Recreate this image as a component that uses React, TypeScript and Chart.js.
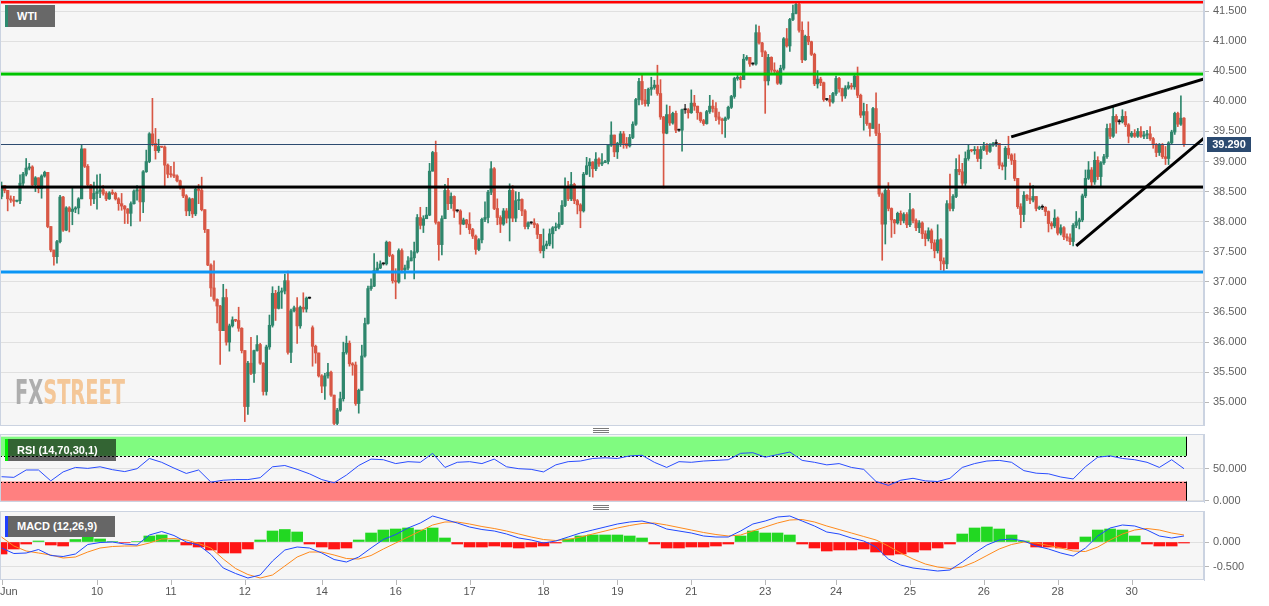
import React, { useEffect, useRef } from 'react';
import { Chart, registerables } from 'chart.js';

Chart.register(...registerables);

// ---------------- data (hourly WTI candles) ----------------
const closes = [
  38.60, 38.52, 38.38, 38.36, 38.34, 38.35, 38.64, 38.79, 38.89, 38.91,
  38.61, 38.73, 38.55, 38.76, 38.82, 37.92, 37.53, 37.42, 37.67, 38.41,
  37.86, 38.23, 38.17, 38.21, 38.23, 38.38, 39.21, 38.92, 38.61, 38.38,
  38.47, 38.50, 38.53, 38.47, 38.38, 38.48, 38.47, 38.38, 38.30, 38.26,
  38.21, 38.14, 38.30, 38.51, 38.53, 38.33, 38.83, 39.00, 39.46, 39.30,
  39.18, 39.25, 39.24, 38.94, 38.79, 38.78, 38.76, 38.68, 38.57, 38.43,
  38.18, 38.38, 38.13, 38.54, 38.52, 38.20, 37.87, 37.28, 36.90, 36.71,
  36.60, 36.19, 36.74, 36.00, 36.27, 36.37, 36.36, 36.23, 35.86, 34.93,
  35.65, 35.48, 35.86, 35.96, 35.65, 35.18, 35.92, 36.28, 36.81, 36.56,
  36.83, 36.85, 37.02, 35.83, 36.52, 36.57, 36.27, 36.58, 36.55, 36.73,
  36.73, 35.93, 35.82, 35.44, 35.27, 35.44, 35.50, 35.12, 34.65, 34.87,
  35.06, 35.83, 35.98, 35.64, 35.62, 34.98, 35.20, 35.77, 36.31, 36.89,
  36.93, 37.19, 37.23, 37.30, 37.30, 37.66, 37.44, 37.02, 37.00, 37.52,
  37.20, 37.23, 37.35, 37.40, 37.50, 38.07, 37.94, 38.05, 38.11, 38.84,
  39.15, 37.99, 37.62, 38.05, 38.52, 38.30, 38.42, 38.18, 38.18, 37.96,
  38.03, 37.96, 37.87, 37.76, 37.54, 37.70, 38.04, 38.07, 38.49, 38.88,
  38.22, 38.07, 37.96, 38.18, 38.06, 38.52, 38.06, 38.35, 38.37, 38.18,
  37.92, 37.98, 37.98, 37.95, 37.79, 37.52, 37.60, 37.63, 37.80, 37.90,
  37.91, 37.96, 38.27, 38.57, 38.38, 38.62, 38.35, 38.28, 38.18, 38.79,
  38.93, 38.99, 38.88, 39.04, 38.96, 38.98, 39.00, 39.27, 39.44, 39.16,
  39.30, 39.46, 39.30, 39.26, 39.40, 39.62, 40.03, 40.33, 40.02, 39.96,
  40.20, 40.23, 40.27, 40.13, 39.74, 39.47, 39.78, 39.64, 39.80, 39.52,
  39.52, 39.86, 39.86, 39.81, 39.97, 39.92, 39.81, 39.68, 39.63, 39.83,
  39.92, 39.88, 39.74, 39.70, 39.68, 39.72, 39.90, 40.08, 40.38, 40.40,
  40.36, 40.70, 40.73, 40.62, 40.62, 41.14, 40.97, 40.82, 40.34, 40.73,
  40.52, 40.50, 40.30, 40.55, 41.04, 40.92, 41.36, 41.46, 41.61, 41.18,
  40.69, 41.08, 40.99, 40.78, 40.29, 40.37, 40.31, 40.03, 40.03, 39.99,
  40.13, 40.38, 40.21, 40.09, 40.22, 40.26, 40.24, 40.42, 40.10, 39.77,
  39.83, 39.63, 39.55, 39.88, 39.47, 38.46, 37.96, 38.52, 38.22, 38.03,
  37.98, 38.14, 38.02, 38.12, 37.95, 38.20, 38.02, 37.90, 37.98, 37.80,
  37.72, 37.85, 37.65, 37.52, 37.70, 37.35, 37.30, 38.30, 38.22, 38.42,
  38.87, 38.83, 38.64, 39.05, 39.19, 39.18, 39.20, 39.05, 39.20, 39.26,
  39.17, 39.27, 39.30, 39.30, 38.94, 38.92, 39.22, 39.11, 39.02, 38.72,
  38.25, 38.12, 38.44, 38.39, 38.36, 38.42, 38.22, 38.24, 38.24, 38.17,
  37.97, 37.93, 38.06, 37.81, 37.90, 37.75, 37.73, 37.67, 37.94, 38.00,
  38.03, 38.43, 38.72, 38.86, 38.66, 39.02, 38.75, 38.98, 39.08, 39.55,
  39.42, 39.75, 39.66, 39.66, 39.75, 39.61, 39.42, 39.47, 39.42, 39.50,
  39.42, 39.44, 39.46, 39.38, 39.28, 39.15, 39.28, 39.08, 39.05, 39.31,
  39.49, 39.80, 39.62, 39.72, 39.29,
];

const highs = [
  38.66, 38.60, 38.52, 38.43, 38.42, 38.36, 38.78, 38.82, 39.05, 38.97,
  38.93, 38.75, 38.73, 38.78, 38.84, 38.82, 37.92, 37.53, 37.69, 38.44,
  38.42, 38.25, 38.25, 38.57, 38.25, 38.40, 39.27, 39.21, 38.95, 38.62,
  38.66, 38.78, 38.79, 38.60, 38.50, 38.50, 38.53, 38.49, 38.40, 38.47,
  38.27, 38.22, 38.33, 38.53, 38.60, 38.55, 38.85, 39.19, 39.48, 40.05,
  39.55, 39.37, 39.25, 39.26, 38.96, 38.92, 38.99, 38.78, 38.69, 38.58,
  38.45, 38.40, 38.39, 38.56, 38.62, 38.74, 38.20, 37.87, 37.30, 37.35,
  36.72, 36.61, 36.96, 36.88, 36.30, 36.42, 36.38, 36.58, 36.24, 35.86,
  35.68, 36.08, 35.87, 36.11, 35.98, 35.66, 35.95, 36.45, 36.92, 36.86,
  36.93, 36.90, 37.13, 37.18, 36.55, 36.60, 36.74, 36.60, 36.82, 36.75,
  36.75, 36.27, 35.95, 35.82, 35.46, 35.48, 35.65, 35.52, 35.12, 34.90,
  35.17, 36.00, 36.10, 36.02, 35.66, 35.67, 35.22, 35.95, 36.40, 36.93,
  37.05, 37.47, 37.33, 37.35, 37.32, 37.68, 37.67, 37.46, 37.22, 37.55,
  37.55, 37.28, 37.42, 37.52, 37.66, 38.12, 38.24, 38.10, 38.24, 38.97,
  39.17, 39.34, 38.00, 38.10, 38.62, 38.72, 38.48, 38.43, 38.20, 38.20,
  38.06, 38.04, 38.15, 37.89, 37.78, 37.72, 38.06, 38.33, 38.52, 39.00,
  38.90, 38.38, 38.10, 38.22, 38.22, 38.63, 38.60, 38.50, 38.49, 38.38,
  38.20, 38.00, 38.00, 38.05, 37.97, 37.78, 37.88, 37.68, 37.88, 37.92,
  37.98, 38.15, 38.35, 38.73, 38.67, 38.82, 38.64, 38.37, 38.30, 38.82,
  39.07, 39.05, 39.00, 39.15, 39.06, 39.13, 39.02, 39.28, 39.66, 39.44,
  39.32, 39.50, 39.50, 39.40, 39.45, 39.66, 40.05, 40.38, 40.44, 40.20,
  40.22, 40.40, 40.35, 40.60, 40.36, 39.75, 39.94, 39.92, 39.82, 39.84,
  39.54, 39.87, 39.95, 39.88, 40.19, 40.10, 39.92, 39.82, 39.70, 39.85,
  40.10, 40.02, 39.98, 39.82, 39.72, 39.74, 39.92, 40.10, 40.40, 40.45,
  40.42, 40.78, 40.76, 40.73, 40.64, 41.27, 41.25, 40.98, 40.84, 40.78,
  40.74, 40.64, 40.52, 40.60, 41.06, 41.21, 41.38, 41.60, 41.66, 41.65,
  41.32, 41.10, 41.32, 41.00, 40.80, 40.51, 40.40, 40.32, 40.05, 40.10,
  40.15, 40.42, 40.40, 40.22, 40.26, 40.32, 40.30, 40.44, 40.57, 40.12,
  39.97, 39.95, 39.64, 39.90, 40.14, 39.62, 38.48, 38.55, 38.65, 38.23,
  38.04, 38.16, 38.18, 38.15, 38.15, 38.47, 38.22, 38.05, 38.02, 38.00,
  37.85, 37.90, 37.88, 37.70, 37.95, 37.72, 37.40, 38.35, 38.79, 38.45,
  39.05, 39.11, 38.97, 39.16, 39.27, 39.20, 39.25, 39.25, 39.25, 39.32,
  39.30, 39.30, 39.32, 39.36, 39.30, 38.98, 39.25, 39.42, 39.13, 39.13,
  38.72, 38.30, 38.50, 38.45, 38.64, 38.60, 38.42, 38.26, 38.28, 38.25,
  38.18, 38.00, 38.20, 38.08, 37.95, 37.92, 37.80, 37.80, 37.97, 38.17,
  38.06, 38.46, 38.86, 39.00, 38.90, 39.16, 39.08, 39.00, 39.12, 39.62,
  39.63, 39.90, 39.78, 39.70, 39.86, 39.83, 39.63, 39.50, 39.53, 39.55,
  39.58, 39.50, 39.52, 39.58, 39.40, 39.30, 39.30, 39.30, 39.25, 39.33,
  39.52, 39.82, 39.82, 40.09, 39.73,
];

const lows = [
  38.38, 38.48, 38.18, 38.32, 38.26, 38.33, 38.30, 38.60, 38.76, 38.86,
  38.58, 38.50, 38.48, 38.39, 38.74, 37.90, 37.50, 37.28, 37.31, 37.65,
  37.84, 37.85, 37.83, 37.95, 38.15, 38.13, 38.38, 38.90, 38.58, 38.27,
  38.30, 38.21, 38.40, 38.44, 38.35, 38.37, 38.45, 38.36, 38.19, 38.19,
  37.97, 37.97, 37.93, 38.29, 38.36, 38.01, 38.15, 38.82, 38.98, 39.26,
  39.04, 39.15, 39.23, 38.60, 38.73, 38.74, 38.73, 38.66, 38.54, 38.40,
  38.10, 38.10, 38.07, 38.10, 38.30, 38.18, 37.82, 37.27, 36.76, 36.68,
  36.32, 35.63, 36.20, 35.95, 35.85, 36.25, 36.34, 36.18, 35.82, 34.68,
  34.80, 35.46, 35.33, 35.85, 35.63, 35.12, 35.12, 35.88, 36.25, 36.36,
  36.55, 36.56, 36.80, 35.80, 35.66, 36.50, 35.98, 36.23, 36.50, 36.50,
  36.72, 35.60, 35.65, 35.42, 35.16, 35.05, 35.40, 35.10, 34.62, 34.62,
  34.85, 35.02, 35.80, 35.60, 35.45, 34.95, 34.82, 35.20, 35.75, 36.30,
  36.86, 36.92, 37.17, 37.22, 37.28, 37.28, 37.42, 36.98, 36.72, 36.98,
  37.15, 37.05, 37.20, 37.35, 37.05, 37.48, 37.88, 37.82, 38.05, 38.10,
  38.84, 37.96, 37.36, 37.45, 38.05, 38.20, 38.22, 38.07, 38.16, 37.79,
  37.95, 37.90, 37.80, 37.72, 37.46, 37.52, 37.65, 38.00, 37.98, 38.45,
  38.20, 37.95, 37.82, 37.94, 37.98, 37.68, 38.00, 38.00, 38.20, 38.10,
  37.88, 37.88, 37.96, 37.90, 37.72, 37.48, 37.40, 37.55, 37.60, 37.56,
  37.85, 37.88, 37.95, 38.25, 38.35, 38.35, 38.30, 38.13, 37.90, 38.16,
  38.78, 38.75, 38.74, 38.85, 38.92, 38.93, 38.98, 38.96, 39.25, 39.08,
  39.05, 39.25, 39.22, 39.22, 39.24, 39.38, 39.60, 39.94, 39.95, 39.92,
  39.92, 40.10, 40.20, 40.10, 39.70, 38.56, 39.46, 39.60, 39.62, 39.48,
  39.50, 39.17, 39.80, 39.72, 39.80, 39.85, 39.70, 39.65, 39.60, 39.62,
  39.80, 39.82, 39.68, 39.62, 39.46, 39.40, 39.70, 39.88, 40.05, 40.35,
  40.22, 40.36, 40.68, 40.58, 40.60, 40.60, 40.95, 40.74, 39.80, 40.27,
  40.48, 40.47, 40.28, 40.28, 40.52, 40.90, 40.83, 41.34, 41.45, 41.15,
  40.64, 40.68, 40.94, 40.76, 40.26, 40.22, 40.26, 40.00, 40.01, 39.92,
  39.97, 40.10, 40.15, 40.00, 40.05, 40.20, 40.20, 40.20, 40.06, 39.73,
  39.52, 39.60, 39.42, 39.55, 39.43, 38.42, 37.36, 37.63, 38.18, 37.74,
  37.80, 37.96, 37.95, 37.98, 37.90, 37.92, 37.98, 37.85, 37.82, 37.72,
  37.60, 37.68, 37.55, 37.40, 37.48, 37.20, 37.18, 37.22, 38.18, 38.18,
  38.40, 38.78, 38.60, 38.60, 39.02, 39.16, 39.12, 39.00, 38.88, 39.18,
  39.12, 39.15, 39.25, 39.25, 38.88, 38.86, 38.70, 39.05, 38.95, 38.68,
  38.22, 37.90, 38.00, 38.35, 38.30, 38.33, 38.18, 38.20, 38.20, 38.10,
  37.83, 37.88, 37.90, 37.78, 37.78, 37.70, 37.68, 37.62, 37.60, 37.90,
  37.88, 38.00, 38.40, 38.70, 38.60, 38.62, 38.70, 38.58, 38.95, 39.05,
  39.38, 39.40, 39.47, 39.62, 39.64, 39.58, 39.31, 39.40, 39.40, 39.40,
  39.40, 39.38, 39.38, 39.35, 39.22, 39.08, 39.10, 39.05, 38.95, 38.95,
  39.28, 39.45, 39.58, 39.60, 39.25,
];

// opens are the previous close, except where a session opened with a gap
const sessionOpens: Record<number, number> = { 0: 38.42, 101: 36.24 };

const priceTicks = [35, 35.5, 36, 36.5, 37, 37.5, 38, 38.5, 39, 39.5, 40, 40.5, 41, 41.5];
const levelPrices = [41.65, 40.453, 38.576, 37.165];
const levelColors = ['#ff0000', '#00c300', '#000000', '#0a95f5'];
const lastPrice = 39.29;
const trendUpper = [[327.9, 39.41], [390.5, 40.37]];
const trendLower = [[349.0, 37.60], [390.5, 39.39]];

const dateTickIndex = [0, 31, 55, 79, 104, 128, 152, 176, 200, 224, 248, 271, 295, 319, 343, 367];
const dateTickLabels = ['Jun', '10', '11', '12', '14', '16', '17', '18', '19', '21', '23', '24', '25', '26', '28', '30'];

// oscillators sampled every 4 candles
const oscStep = 4;
const rsiValues = [
  37.5, 36.5, 48, 48, 31, 45, 52, 50.5, 53, 48.5,
  45.5, 50, 66, 60, 51, 42.6, 48, 29, 32, 33,
  33, 36, 53, 55, 49, 42, 33, 28, 40, 55,
  65, 64, 58, 61, 60, 74, 52, 60, 61, 58,
  65, 53, 50, 49, 45, 56, 61, 62, 66, 67,
  66, 70, 71, 60, 52, 61, 60, 62, 63, 64,
  74, 75, 68, 72, 76, 63, 60, 56, 58, 52,
  49, 30, 24, 32, 35, 31, 30, 35, 52, 58,
  62, 63, 60, 47, 43, 42, 37, 34, 53, 68,
  70, 66, 64, 60, 52, 64, 50,
];
const rsiTicks = [0, 50];
const rsiUpper = 70;
const rsiLower = 30;

const macdValues = [
  -0.12, -0.23, -0.22, -0.15, -0.27, -0.29, -0.24, -0.05, -0.01, 0.0,
  -0.04, -0.06, 0.14, 0.21, 0.13, 0.0, -0.06, -0.25, -0.52, -0.63,
  -0.72, -0.66, -0.38, -0.16, -0.10, -0.12, -0.22, -0.35, -0.40, -0.30,
  -0.12, 0.05, 0.15, 0.28, 0.38, 0.52, 0.45, 0.38, 0.30, 0.25,
  0.22, 0.16, 0.08, 0.04, -0.02, 0.02, 0.10, 0.18, 0.24, 0.30,
  0.36, 0.40, 0.42, 0.36, 0.26, 0.22, 0.18, 0.12, 0.10, 0.10,
  0.22, 0.36, 0.42, 0.50, 0.52, 0.42, 0.32, 0.20, 0.16, 0.08,
  0.02, -0.10, -0.34, -0.46, -0.52, -0.55, -0.58, -0.56, -0.40, -0.22,
  -0.06, 0.04, 0.06, 0.02, -0.08, -0.14, -0.22, -0.28, -0.12, 0.12,
  0.28, 0.34, 0.32, 0.24, 0.12, 0.08, 0.12,
];
const signalValues = [
  0.10, -0.08, -0.18, -0.22, -0.26, -0.32, -0.30, -0.20, -0.12, -0.09,
  -0.08, -0.08, -0.02, 0.06, 0.07, 0.04, -0.03, -0.12, -0.34, -0.53,
  -0.65, -0.72, -0.66, -0.48, -0.30, -0.20, -0.20, -0.26, -0.33, -0.34,
  -0.27, -0.14, -0.02, 0.10, 0.22, 0.34, 0.40, 0.40, 0.36, 0.31,
  0.27, 0.22, 0.16, 0.10, 0.05, 0.03, 0.05, 0.10, 0.16, 0.22,
  0.28, 0.33, 0.37, 0.38, 0.34, 0.29, 0.24, 0.19, 0.15, 0.12,
  0.14, 0.22, 0.30, 0.38, 0.44, 0.45, 0.40, 0.32, 0.25, 0.18,
  0.11, 0.04, -0.08, -0.22, -0.34, -0.44, -0.50, -0.53, -0.50, -0.40,
  -0.27, -0.14, -0.05, 0.00, -0.02, -0.07, -0.12, -0.18, -0.19, -0.10,
  0.04, 0.16, 0.24, 0.27, 0.24, 0.18, 0.14,
];
const histValues = [
  -0.24, -0.14, -0.04, 0.02, -0.06, -0.08, 0.05, 0.12, 0.06, 0.01,
  -0.01, 0.01, 0.12, 0.14, 0.04, -0.06, -0.10, -0.16, -0.22, -0.22,
  -0.14, 0.04, 0.22, 0.25, 0.20, -0.04, -0.10, -0.14, -0.12, 0.04,
  0.18, 0.24, 0.26, 0.28, 0.24, 0.28, 0.08, -0.04, -0.10, -0.10,
  -0.08, -0.10, -0.12, -0.10, -0.08, -0.02, 0.06, 0.12, 0.14, 0.14,
  0.14, 0.12, 0.08, -0.04, -0.12, -0.12, -0.10, -0.10, -0.08, -0.04,
  0.12, 0.22, 0.18, 0.18, 0.14, -0.04, -0.12, -0.18, -0.16, -0.16,
  -0.14, -0.20, -0.26, -0.24, -0.20, -0.16, -0.12, -0.04, 0.16, 0.28,
  0.30, 0.26, 0.14, 0.02, -0.10, -0.10, -0.12, -0.14, 0.10, 0.24,
  0.26, 0.24, 0.12, -0.04, -0.08, -0.08, -0.02,
];
const macdTicks = [-0.5, 0];

// ---------------- styling ----------------
const FONT = "'Liberation Sans', Arial, sans-serif";
const SLOTS = 391;
const AXIS_W = 65;
const GREEN = '#2e866c';
const RED = '#d85745';
const PANE_BG = '#f6f6f6';
const PANE_BORDER = '#cbd3e1';

const common: any = {
  responsive: false,
  animation: false,
  devicePixelRatio: 1,
  events: [],
  plugins: { legend: { display: false }, tooltip: { enabled: false }, title: { display: false } },
};

function xAxis(): any {
  return { type: 'linear', min: -0.5, max: SLOTS - 0.5, offset: false, display: false };
}

function yAxis(min: number, max: number, ticks: number[]): any {
  return {
    position: 'right',
    min,
    max,
    afterBuildTicks: (s: any) => {
      s.ticks = ticks.map((v) => ({ value: v }));
    },
    afterFit: (s: any) => {
      s.width = AXIS_W;
      s.paddingTop = 0;
      s.paddingBottom = 0;
    },
    grid: { color: '#e0e0e0', lineWidth: 1, drawTicks: true, tickLength: 5, tickColor: '#b8b8b8' },
    border: { display: true, color: PANE_BORDER },
    ticks: {
      color: '#5f5f5f',
      font: { size: 11, family: FONT },
      padding: 4,
      autoSkip: false,
      callback: (v: any) => Number(v).toFixed(3),
    },
  };
}

const paneBg = {
  id: 'paneBg',
  beforeDraw(chart: any) {
    const { ctx, chartArea: a } = chart;
    ctx.save();
    ctx.fillStyle = PANE_BG;
    ctx.fillRect(a.left, a.top, a.width, a.height);
    ctx.restore();
  },
};

const paneBorder = {
  id: 'paneBorder',
  afterDraw(chart: any) {
    const { ctx, chartArea: a } = chart;
    ctx.save();
    ctx.strokeStyle = PANE_BORDER;
    ctx.lineWidth = 1;
    ctx.strokeRect(a.left + 0.5, a.top + 0.5, a.width - 1, a.height - 1);
    ctx.restore();
  },
};

const mainExtras = {
  id: 'mainExtras',
  beforeDatasetsDraw(chart: any) {
    const { ctx } = chart;
    ctx.save();
    ctx.font = "bold 34px 'Liberation Sans Narrow', 'DejaVu Sans Condensed', sans-serif";
    const wFX = ctx.measureText('FX').width;
    const wST = ctx.measureText('STREET').width;
    const sx = 110 / (wFX + wST);
    ctx.translate(15, 404);
    ctx.scale(sx, 1);
    ctx.textBaseline = 'alphabetic';
    ctx.globalAlpha = 0.9;
    ctx.fillStyle = '#a6a6a6';
    ctx.fillText('FX', 0, 0);
    ctx.fillStyle = '#f4c28e';
    ctx.fillText('STREET', wFX, 0);
    ctx.restore();
  },
  afterDatasetsDraw(chart: any) {
    const { ctx, chartArea: a } = chart;
    const x = chart.scales.x;
    const y = chart.scales.y;
    ctx.save();
    ctx.beginPath();
    ctx.rect(a.left, a.top, a.width, a.height);
    ctx.clip();
    levelPrices.forEach((p, i) => {
      const py = y.getPixelForValue(p);
      ctx.fillStyle = levelColors[i];
      ctx.fillRect(a.left, py - 1.5, a.width, 3);
    });
    const ly = Math.round(y.getPixelForValue(lastPrice)) + 0.5;
    ctx.strokeStyle = '#2d4b70';
    ctx.lineWidth = 1;
    ctx.beginPath();
    ctx.moveTo(a.left, ly);
    ctx.lineTo(a.right, ly);
    ctx.stroke();
    ctx.strokeStyle = '#000';
    ctx.lineWidth = 3;
    [trendUpper, trendLower].forEach((seg) => {
      ctx.beginPath();
      ctx.moveTo(x.getPixelForValue(seg[0][0]), y.getPixelForValue(seg[0][1]));
      ctx.lineTo(x.getPixelForValue(seg[1][0]), y.getPixelForValue(seg[1][1]));
      ctx.stroke();
    });
    ctx.restore();
  },
  afterDraw(chart: any) {
    const { ctx, chartArea: a } = chart;
    const y = chart.scales.y;
    const py = y.getPixelForValue(lastPrice);
    ctx.save();
    ctx.fillStyle = '#2b4a70';
    ctx.fillRect(a.right + 3, Math.round(py) - 7, 44, 15);
    ctx.fillStyle = '#ffffff';
    ctx.font = `bold 11px ${FONT}`;
    ctx.textAlign = 'center';
    ctx.textBaseline = 'middle';
    ctx.fillText(lastPrice.toFixed(3), a.right + 25, Math.round(py) + 1);
    ctx.restore();
  },
};

const rsiBands = {
  id: 'rsiBands',
  beforeDatasetsDraw(chart: any) {
    const { ctx, chartArea: a } = chart;
    const x = chart.scales.x;
    const y = chart.scales.y;
    const x1 = Math.round(x.getPixelForValue(closes.length - 0.5));
    const y100 = y.getPixelForValue(100);
    const y70 = y.getPixelForValue(rsiUpper);
    const y30 = y.getPixelForValue(rsiLower);
    const y0 = Math.min(y.getPixelForValue(0), a.bottom);
    ctx.save();
    ctx.fillStyle = '#80fb80';
    ctx.fillRect(a.left, y100, x1 - a.left, y70 - y100);
    ctx.fillStyle = '#ff8080';
    ctx.fillRect(a.left, y30, x1 - a.left, y0 - y30);
    ctx.strokeStyle = '#000';
    ctx.lineWidth = 1;
    ctx.setLineDash([2, 2]);
    [y70, y30].forEach((yy) => {
      ctx.beginPath();
      ctx.moveTo(a.left, Math.round(yy) + 0.5);
      ctx.lineTo(x1, Math.round(yy) + 0.5);
      ctx.stroke();
    });
    ctx.setLineDash([]);
    ctx.beginPath();
    ctx.moveTo(x1 + 0.5, y100);
    ctx.lineTo(x1 + 0.5, y70);
    ctx.moveTo(x1 + 0.5, y30);
    ctx.lineTo(x1 + 0.5, y0);
    ctx.stroke();
    ctx.restore();
  },
};

const dateAxis = {
  id: 'dateAxis',
  afterDraw(chart: any) {
    const { ctx, chartArea: a } = chart;
    const x = chart.scales.x;
    ctx.save();
    ctx.font = `11px ${FONT}`;
    ctx.fillStyle = '#555555';
    ctx.strokeStyle = '#b8b8b8';
    ctx.lineWidth = 1;
    ctx.textAlign = 'center';
    ctx.textBaseline = 'middle';
    dateTickIndex.forEach((k, i) => {
      const px = x.getPixelForValue(k);
      const rx = Math.round(px) + 0.5;
      ctx.beginPath();
      ctx.moveTo(rx, a.bottom);
      ctx.lineTo(rx, a.bottom + 5);
      ctx.stroke();
      const w = ctx.measureText(dateTickLabels[i]).width;
      ctx.fillText(dateTickLabels[i], Math.max(px, w / 2), a.bottom + 12);
    });
    ctx.restore();
  },
};

function makeMain(canvas: HTMLCanvasElement) {
  const opens = closes.map((c, i) => (sessionOpens[i] !== undefined ? sessionOpens[i] : closes[i - 1]));
  const colors = closes.map((c, i) => (c > opens[i] ? GREEN : c < opens[i] ? RED : '#111111'));
  const wickColors = closes.map((c, i) => (c > opens[i] ? GREEN : c < opens[i] ? RED : '#555555'));
  const bodies = closes.map((c, i) => ({ x: i, y: [opens[i], c] }));
  const wicks = closes.map((c, i) => ({
    x: i,
    y: [Math.min(lows[i], opens[i], c), Math.max(highs[i], opens[i], c)],
  }));
  return new Chart(canvas, {
    type: 'bar',
    data: {
      datasets: [
        { data: bodies, backgroundColor: colors, barThickness: 2.6, grouped: false, minBarLength: 1, borderWidth: 0 } as any,
        { data: wicks, backgroundColor: wickColors, barThickness: 1, grouped: false, borderWidth: 0 } as any,
      ],
    },
    options: {
      ...common,
      layout: { padding: 0 },
      scales: { x: xAxis(), y: yAxis(34.607, 41.683, priceTicks) },
    },
    plugins: [paneBg, mainExtras, paneBorder],
  } as any);
}

function makeRsi(canvas: HTMLCanvasElement) {
  return new Chart(canvas, {
    type: 'line',
    data: {
      datasets: [
        {
          data: rsiValues.map((v, j) => ({ x: j * oscStep, y: v })),
          borderColor: '#2a4dff',
          borderWidth: 1,
          pointRadius: 0,
          tension: 0,
          fill: false,
        },
      ],
    },
    options: {
      ...common,
      layout: { padding: { bottom: 6 } },
      scales: { x: xAxis(), y: yAxis(-2.0, 104.2, rsiTicks) },
    },
    plugins: [paneBg, rsiBands, paneBorder],
  } as any);
}

function makeMacd(canvas: HTMLCanvasElement) {
  return new Chart(canvas, {
    type: 'bar',
    data: {
      datasets: [
        {
          type: 'line',
          data: macdValues.map((v, j) => ({ x: j * oscStep, y: v })),
          borderColor: '#2048ff',
          borderWidth: 1,
          pointRadius: 0,
          tension: 0,
        },
        {
          type: 'line',
          data: signalValues.map((v, j) => ({ x: j * oscStep, y: v })),
          borderColor: '#ff8a1c',
          borderWidth: 1,
          pointRadius: 0,
          tension: 0,
        },
        {
          type: 'bar',
          data: histValues.map((v, j) => ({ x: j * oscStep, y: v })),
          backgroundColor: histValues.map((v) => (v >= 0 ? '#22d822' : '#ff1414')),
          barThickness: 11,
          grouped: false,
          borderWidth: 0,
        },
      ],
    },
    options: {
      ...common,
      layout: { padding: { bottom: 26 } },
      scales: { x: xAxis(), y: yAxis(-0.76, 0.62, macdTicks) },
    },
    plugins: [paneBg, dateAxis, paneBorder],
  } as any);
}

function Grip({ top }: { top: number }) {
  const line = (t: number) => (
    <div style={{ position: 'absolute', left: 593, top: t, width: 16, height: 1, background: '#7a7a7a' }} />
  );
  return (
    <>
      {line(top)}
      {line(top + 2)}
      {line(top + 4)}
    </>
  );
}

function Tag({ left, top, width, height, bg, strip, text }: any) {
  return (
    <div
      style={{
        position: 'absolute',
        left,
        top,
        width,
        height,
        boxSizing: 'border-box',
        background: bg,
        borderLeft: `3px solid ${strip}`,
        paddingLeft: 9,
        color: '#ffffff',
        fontWeight: 'bold',
        fontSize: 11,
        lineHeight: `${height}px`,
        fontFamily: FONT,
        whiteSpace: 'nowrap',
      }}
    >
      {text}
    </div>
  );
}

export default function App() {
  const mainRef = useRef<HTMLCanvasElement>(null);
  const rsiRef = useRef<HTMLCanvasElement>(null);
  const macdRef = useRef<HTMLCanvasElement>(null);

  useEffect(() => {
    Chart.defaults.font.family = FONT;
    const charts = [
      makeMain(mainRef.current as HTMLCanvasElement),
      makeRsi(rsiRef.current as HTMLCanvasElement),
      makeMacd(macdRef.current as HTMLCanvasElement),
    ];
    return () => charts.forEach((c) => c.destroy());
  }, []);

  return (
    <div
      style={{
        position: 'fixed',
        left: 0,
        top: 0,
        width: 1269,
        height: 606,
        background: '#ffffff',
        overflow: 'hidden',
        fontFamily: FONT,
      }}
    >
      <canvas ref={mainRef} width={1269} height={426} style={{ position: 'absolute', left: 0, top: 0 }} />
      <canvas ref={rsiRef} width={1269} height={74} style={{ position: 'absolute', left: 0, top: 434 }} />
      <canvas ref={macdRef} width={1269} height={95} style={{ position: 'absolute', left: 0, top: 511 }} />
      <Tag left={5} top={5} width={50} height={22} bg="#686868" strip="#2e8b6f" text="WTI" />
      <Tag left={5} top={439} width={111} height={22} bg="rgba(0,0,0,0.6)" strip="#00ee00" text="RSI (14,70,30,1)" />
      <Tag left={5} top={516} width={110} height={21} bg="#666666" strip="#1f3fff" text="MACD (12,26,9)" />
      <Grip top={428} />
      <Grip top={505} />
    </div>
  );
}
